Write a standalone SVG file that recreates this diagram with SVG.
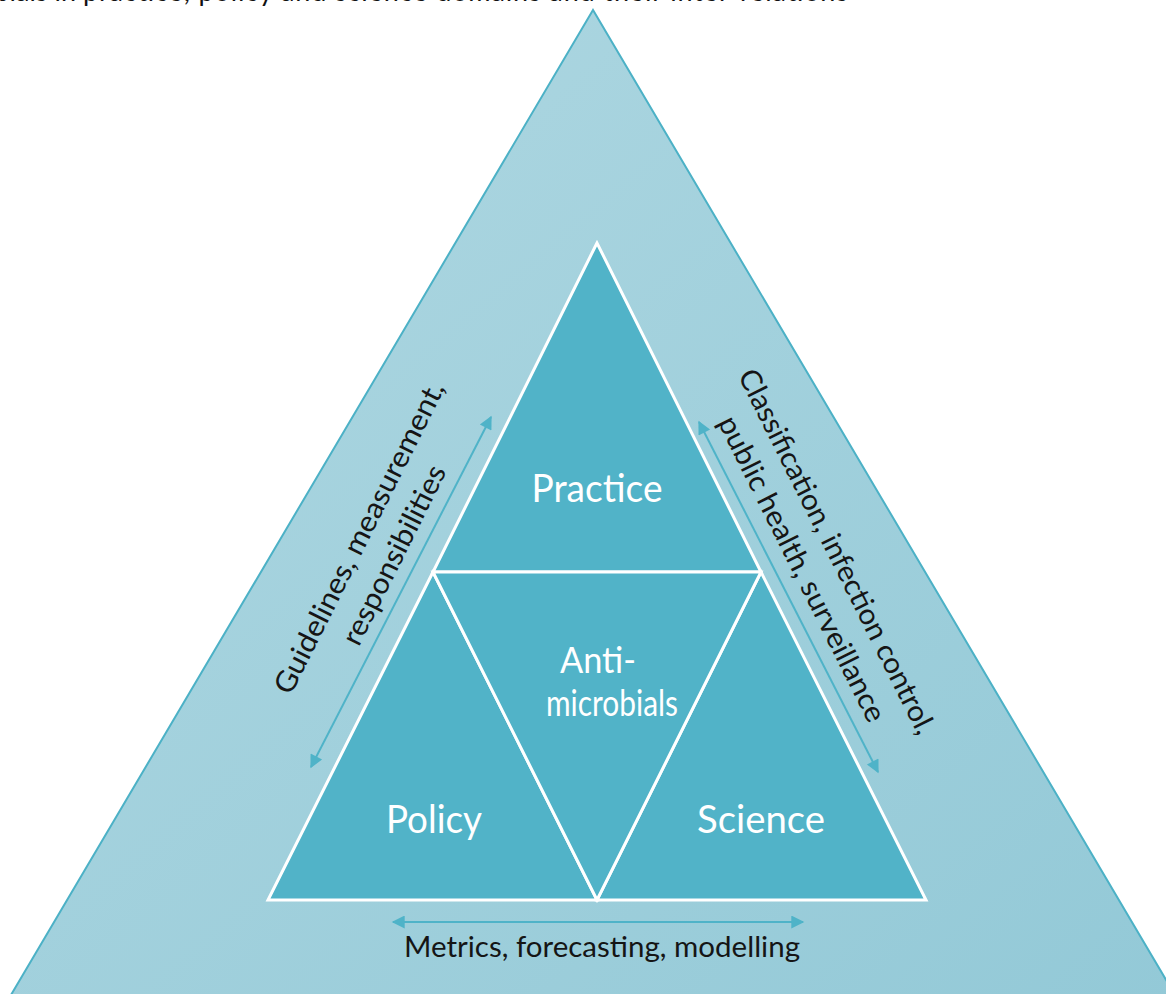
<svg xmlns="http://www.w3.org/2000/svg" width="1166" height="994" viewBox="0 0 1166 994">
<style>
  .lbl { font-family: Lato, "Liberation Sans", sans-serif; fill: #ffffff; text-anchor: middle; font-size: 39px; }
  .lbl2 { font-family: Lato, "Liberation Sans", sans-serif; fill: #ffffff; text-anchor: middle; font-size: 36px; }
  .side { font-family: Lato, "Liberation Sans", sans-serif; fill: #151515; text-anchor: middle; font-size: 29px; }
  .cap { font-family: Lato, "Liberation Sans", sans-serif; fill: #111111; font-size: 27px; }
  .inner { fill: #51b3c8; stroke: #ffffff; stroke-width: 3; stroke-linejoin: miter; }
  .conn { stroke: #4fb3c8; stroke-width: 2; fill: none; marker-start: url(#ah); marker-end: url(#ah); }
</style>
<defs>
  <linearGradient id="bg" x1="0" y1="0" x2="1" y2="1">
    <stop offset="0" stop-color="#b0d8e2"/>
    <stop offset="1" stop-color="#93c9d7"/>
  </linearGradient>
  <marker id="ah" viewBox="0 0 10 10" refX="9" refY="5" markerWidth="16" markerHeight="13" orient="auto-start-reverse" markerUnits="userSpaceOnUse">
    <path d="M0,0 L10,5 L0,10 Z" fill="#4fb3c8"/>
  </marker>
</defs>
<rect width="1166" height="994" fill="#ffffff"/>
<g id="caption">
  <text class="cap" x="76" y="0.5" text-anchor="end">Antimicrobials in</text>
  <text class="cap" x="83" y="0.5" textLength="765" lengthAdjust="spacing">practice, policy and science domains and their inter-relations</text>
</g>
<g id="outer">
  <polygon points="593,10 8,1000 1178,1000" fill="url(#bg)" stroke="#4cb1c6" stroke-width="2"/>
</g>
<g id="practice">
  <polygon class="inner" points="597,243 433,572 761,572"/>
  <text class="lbl" x="597" y="502" textLength="131" lengthAdjust="spacingAndGlyphs">Practice</text>
</g>
<g id="policy">
  <polygon class="inner" points="433,572 268,900 597,900"/>
  <text class="lbl" x="434" y="833" textLength="96" lengthAdjust="spacingAndGlyphs">Policy</text>
</g>
<g id="science">
  <polygon class="inner" points="761,572 597,900 926,900"/>
  <text class="lbl" x="761" y="833" textLength="128" lengthAdjust="spacingAndGlyphs">Science</text>
</g>
<g id="antimicrobials">
  <polygon class="inner" points="433,572 761,572 597,900"/>
  <text class="lbl2" x="598" y="673" textLength="76" lengthAdjust="spacingAndGlyphs">Anti-</text>
  <text class="lbl2" x="612" y="716" textLength="132" lengthAdjust="spacingAndGlyphs">microbials</text>
</g>
<g id="connectors">
  <line class="conn" x1="311" y1="767" x2="491" y2="417"/>
  <line class="conn" x1="699" y1="422" x2="878" y2="772"/>
  <line class="conn" x1="393" y1="922" x2="803" y2="922"/>
</g>
<g id="label-left" transform="translate(376,546) rotate(-63.4)">
  <text class="side" x="0" y="-9" textLength="345" lengthAdjust="spacingAndGlyphs">Guidelines, measurement,</text>
  <text class="side" x="0" y="30" textLength="197" lengthAdjust="spacingAndGlyphs">responsibilities</text>
</g>
<g id="label-right" transform="translate(820,560) rotate(63.4)">
  <text class="side" x="0" y="-9" textLength="404" lengthAdjust="spacingAndGlyphs">Classification, infection control,</text>
  <text class="side" x="0" y="30" textLength="338" lengthAdjust="spacingAndGlyphs">public health, surveillance</text>
</g>
<g id="label-bottom">
  <text class="side" x="602" y="957" textLength="396" lengthAdjust="spacingAndGlyphs">Metrics, forecasting, modelling</text>
</g>
</svg>
